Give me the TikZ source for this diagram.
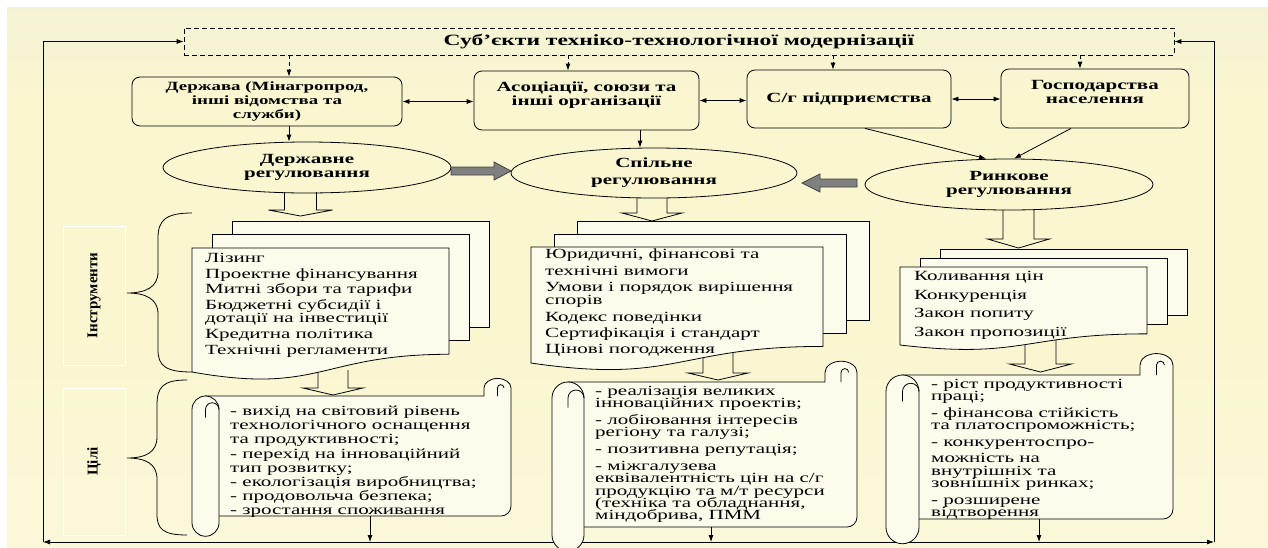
\documentclass[tikz,border=0pt]{standalone}
\usepackage{fontspec}
\setmainfont{Liberation Serif}[FakeStretch=1.5]
\newfontfamily\sidefont{Liberation Serif}
\usepackage{xcolor}
\usepackage{tikz}
\usetikzlibrary{arrows.meta,shapes.geometric}

\definecolor{bgtop}{RGB}{206,220,229}
\definecolor{bgmid}{RGB}{238,240,216}
\definecolor{bgyel}{RGB}{250,246,208}
\definecolor{bgbot}{RGB}{253,251,229}
\definecolor{paper}{RGB}{253,252,236}
\definecolor{blockgray}{RGB}{128,128,128}

\pgfdeclareverticalshading{panelshade}{100bp}{color(0bp)=(bgbot); color(45bp)=(bgyel); color(66bp)=(bgyel); color(82bp)=(bgmid); color(100bp)=(bgtop)}

\lineskiplimit=-100pt
\newcommand{\titlefont}{\bfseries\fontsize{15.7}{17}\selectfont}
\newcommand{\boxfont}{\bfseries\fontsize{14}{14}\selectfont}

\newcommand{\downblock}[5]{\draw[hollowarrow] (#1-#5,#2) -- (#1-#5,#3) -- (#1-2*#5,#3) -- (#1,#4) -- (#1+2*#5,#3) -- (#1+#5,#3) -- (#1+#5,#2);}

\newcommand{\docstack}[6]{%
 \draw[sheet] (#1+2*#5,#2-2*#6) rectangle ++(#3,0.857*#4);
 \draw[sheet] (#1+#5,#2-#6) rectangle ++(#3,0.857*#4);
 \draw[sheet] (#1,#2) -- (#1+#3,#2) -- (#1+#3,#2+0.857*#4) .. controls (#1+0.5*#3,#2+0.857*#4) and (#1+0.5*#3,#2+1.185*#4) .. (#1,#2+#4) -- cycle;}

\newcommand{\hscroll}[5]{%
 \draw[sheet] (#1+0.5*#5,#2) -- (#3-#5,#2) -- (#3-#5,#2-0.3*#5) arc[start angle=180,end angle=360,x radius=0.5*#5,y radius=0.35*#5] -- (#3,#4-10) arc[start angle=0,end angle=90,radius=10] -- (#1+0.5*#5,#4) -- cycle;
 \draw[curly] (#3-0.5*#5,#2) -- (#3-0.5*#5,#2-0.3*#5) arc[start angle=180,end angle=360,radius=0.12*#5];
 \draw[sheet] (#1,#2+0.5*#5) arc[start angle=180,end angle=360,radius=0.5*#5] -- (#1+#5,#4+0.25*#5) arc[start angle=0,end angle=180,radius=0.5*#5] -- cycle;
 \draw[curly] (#1+0.5*#5,#2+0.8*#5) -- (#1+0.5*#5,#2+0.5*#5) arc[start angle=180,end angle=360,radius=0.25*#5];}

\tikzset{
 sheet/.style={draw, fill=paper, line width=0.8pt},
 hollowarrow/.style={draw, line width=0.8pt},
 fatarrow/.style={draw=black!75, fill=blockgray, line width=0.8pt},
 link/.style={line width=0.8pt, -{Latex[length=7pt,width=5pt]}},
 twolink/.style={line width=0.8pt, {Latex[length=7pt,width=5pt]}-{Latex[length=7pt,width=5pt]}},
 dashlink/.style={link, dash pattern=on 4pt off 3pt},
 subjbox/.style={draw, dash pattern=on 5pt off 3pt, line width=0.8pt, minimum width=990, minimum height=27, font=\titlefont},
 actor/.style={draw, rounded corners=8, line width=0.8pt, align=center, font=\boxfont},
 regul/.style={draw, ellipse, inner sep=0, line width=0.8pt, align=center, font=\boxfont},
 sidebox/.style={draw=white, line width=1pt, rotate=90, font=\sidefont\bfseries\fontsize{15}{15}\selectfont},
 listtext/.style={anchor=north west, inner sep=0, align=left},
 curly/.style={line width=0.8pt}
}

\begin{document}
\begin{tikzpicture}[x=1pt,y=-1pt]
\useasboundingbox (0,0) rectangle (1268,547);
\fill[white] (0,0) rectangle (1268,547);
\shade[shading=panelshade] (7,7) rectangle (1268,547);

\node[subjbox] (subj) at (679,41.5) {Суб’єкти техніко-технологічної модернізації};
\node[actor, minimum width=270, minimum height=49, font=\bfseries\fontsize{12.6}{14}\selectfont] (state) at (267,101.5) {Держава (Мінагропрод,\\інші відомства та\\служби)};
\node[actor, minimum width=225, minimum height=59] (assoc) at (586.5,100.5) {Асоціації, союзи та\\інші організації\\\mbox{}};
\node[actor, minimum width=204, minimum height=58] (farms) at (849,99) {С/г підприємства};
\node[actor, minimum width=188, minimum height=59] (homes) at (1095,98.5) {Господарства\\населення\\\mbox{}};

\node[regul, minimum width=288, minimum height=51] (statereg) at (307,167.5) {Державне\\регулювання};
\node[regul, minimum width=286, minimum height=50] (jointreg) at (654,173) {Спільне\\[3pt]регулювання};
\node[regul, minimum width=288, minimum height=51] (marketreg) at (1009,184.5) {Ринкове\\регулювання};

\draw[dashlink] (289,0 |- subj.south) -- (289,0 |- state.north);
\draw[dashlink] (568,0 |- subj.south) -- (568,0 |- assoc.north);
\draw[dashlink] (833,0 |- subj.south) -- (833,0 |- farms.north);
\draw[dashlink] (1080,0 |- subj.south) -- (1080,0 |- homes.north);
\draw[twolink] (state.east) -- (state.east -| assoc.west);
\draw[twolink] (assoc.east) -- (assoc.east -| farms.west);
\draw[twolink] (farms.east) -- (farms.east -| homes.west);
\draw[link] (289,0 |- state.south) -- (289,0 |- statereg.north);
\draw[link] (640,0 |- assoc.south) -- (640,0 |- jointreg.north);
\draw[link] (865,0 |- farms.south) -- ([xshift=-23]marketreg.north);
\draw[link] (1071,0 |- homes.south) -- ([xshift=5]marketreg.north);

\draw[fatarrow] (451,167) -- (494,167) -- (494,162) -- (511,171) -- (494,180) -- (494,175) -- (451,175) -- cycle;
\draw[fatarrow] (857,179) -- (820,179) -- (820,174) -- (802,183) -- (820,192) -- (820,187) -- (857,187) -- cycle;

\coordinate (loopL) at (43,542);
\coordinate (loopR) at (1214,542);
\draw[twolink] (loopL) -- (loopR);
\draw[link] (loopL) |- (subj.west);
\draw[link] (loopR) |- (subj.east);

\downblock{300.5}{192}{210}{216}{16}
\downblock{652}{198}{213}{221}{15}
\downblock{1018.5}{210}{239}{248}{15.5}
\downblock{333}{370}{388}{395}{15}
\downblock{718}{350}{373}{380}{15}
\downblock{1040.5}{340}{364}{372}{15.5}

\docstack{192}{248}{257}{124}{20}{13.5}
\docstack{531}{247}{292}{116}{23}{13}
\docstack{900}{267}{247}{78}{20}{9}

\hscroll{192}{396}{511}{516}{27}
\hscroll{552}{382}{857}{527}{32}
\hscroll{886}{375}{1173}{519}{33}

\draw[link] (370,516) -- (370,0 |- loopL);
\draw[link] (711,527) -- (711,0 |- loopL);
\draw[link] (1039,519) -- (1039,0 |- loopL);

\node[sidebox, minimum width=139, minimum height=62] (toolslabel) at (94,295.5) {Інструменти};
\node[sidebox, minimum width=147, minimum height=62] (goalslabel) at (94,461.5) {Цілі};
\draw[curly] (192,213) .. controls (166,213) and (158,220) .. (158,238) -- (158,272) .. controls (158,287) and (146,293) .. (127,293) .. controls (146,293) and (158,299) .. (158,314) -- (158,350) .. controls (158,366) and (166,372) .. (192,372);
\draw[curly] (187,380) .. controls (163,380) and (157,387) .. (157,405) -- (157,437) .. controls (157,452) and (146,458) .. (127,458) .. controls (146,458) and (157,464) .. (157,479) -- (157,514) .. controls (157,529) and (163,535) .. (187,535);

\node[listtext, font=\fontsize{14}{15.7}\selectfont] (tools) at (205,253) {Лізинг\\Проектне фінансування\\Митні збори та тарифи\\Бюджетні субсидії і\\[-2.5pt]дотації на інвестиції\\Кредитна політика\\Технічні регламенти};
\node[listtext, font=\fontsize{14}{16.3}\selectfont] (rules) at (545,249) {Юридичні, фінансові та\\технічні вимоги\\Умови і порядок вирішення\\[-3pt]спорів\\Кодекс поведінки\\Сертифікація і стандарт\\Цінові погодження};
\node[listtext, font=\fontsize{14}{18.7}\selectfont] (market) at (914,271) {Коливання цін\\Конкуренція\\Закон попиту\\Закон пропозиції};

\node[listtext, font=\fontsize{14}{14.1}\selectfont] (goalsL) at (230,406) {- вихід на світовий рівень\\технологічного оснащення\\та продуктивності;\\- перехід на інноваційний\\тип розвитку;\\- екологізація виробництва;\\- продовольча безпека;\\- зростання споживання};
\node[listtext, font=\fontsize{14}{12.3}\selectfont] (goalsM) at (595,386) {- реалізація великих\\інноваційних проектів;\\[4.5pt]- лобіювання інтересів\\регіону та галузі;\\[4.5pt]- позитивна репутація;\\[4.5pt]- міжгалузева\\еквівалентність цін на с/г\\продукцію та м/т ресурси\\(техніка та обладнання,\\міндобрива, ПММ};
\node[listtext, font=\fontsize{14}{12.5}\selectfont] (goalsR) at (931,379) {- ріст продуктивності\\праці;\\[4pt]- фінансова стійкість\\та платоспроможність;\\[4pt]- конкурентоспро-\\[4pt]можність на\\внутрішніх та\\зовнішніх ринках;\\[4pt]- розширене\\відтворення};
\end{tikzpicture}
\end{document}
